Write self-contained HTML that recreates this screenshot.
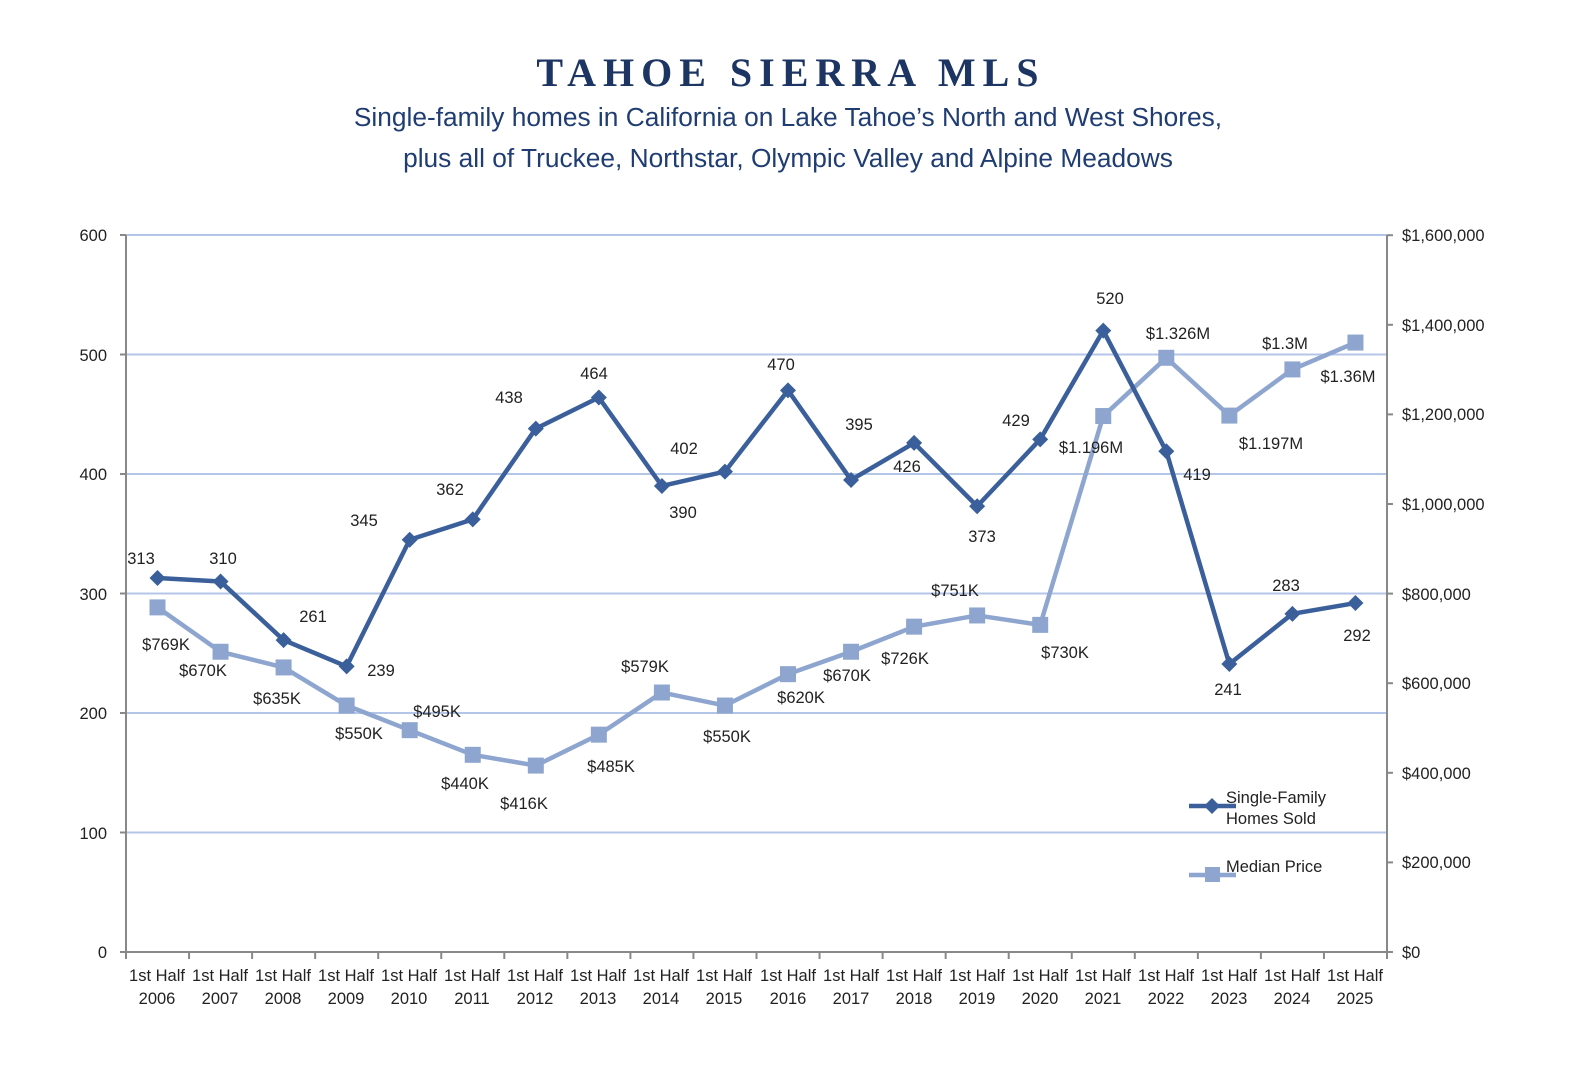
<!DOCTYPE html>
<html><head><meta charset="utf-8"><style>
html,body{margin:0;padding:0;background:#fff;width:1584px;height:1068px;overflow:hidden}
svg{display:block}
.t{font-family:"Liberation Sans",sans-serif;font-size:16.5px;fill:#222}
.d{font-family:"Liberation Sans",sans-serif;font-size:16.5px;fill:#222;text-anchor:middle}
</style></head><body>
<svg id="s" width="1584" height="1068" xmlns="http://www.w3.org/2000/svg">
<text x="791" y="86" text-anchor="middle" font-family="Liberation Serif,serif" font-weight="bold" font-size="40" letter-spacing="7" fill="#1c3563">TAHOE SIERRA MLS</text>
<text x="788" y="126" text-anchor="middle" font-family="Liberation Sans,sans-serif" font-size="26.3" fill="#1f3d73">Single-family homes in California on Lake Tahoe’s North and West Shores,</text>
<text x="788" y="167" text-anchor="middle" font-family="Liberation Sans,sans-serif" font-size="26.3" fill="#1f3d73">plus all of Truckee, Northstar, Olympic Valley and Alpine Meadows</text>
<g id="grid" stroke="#b4c6e7" stroke-width="2"></g>
<g id="axes" stroke="#888" stroke-width="2" fill="none"></g>
<g class="t" text-anchor="end">
<text x="107" y="241">600</text><text x="107" y="361">500</text><text x="107" y="480">400</text><text x="107" y="600">300</text><text x="107" y="719">200</text><text x="107" y="839">100</text><text x="107" y="958">0</text>
</g>
<g class="t">
<text x="1402" y="241">$1,600,000</text><text x="1402" y="331">$1,400,000</text><text x="1402" y="420">$1,200,000</text><text x="1402" y="510">$1,000,000</text><text x="1402" y="600">$800,000</text><text x="1402" y="689">$600,000</text><text x="1402" y="779">$400,000</text><text x="1402" y="868">$200,000</text><text x="1402" y="958">$0</text>
</g>
<g class="d">
<text x="157" y="981">1st Half</text><text x="157" y="1004">2006</text>
<text x="220" y="981">1st Half</text><text x="220" y="1004">2007</text>
<text x="283" y="981">1st Half</text><text x="283" y="1004">2008</text>
<text x="346" y="981">1st Half</text><text x="346" y="1004">2009</text>
<text x="409" y="981">1st Half</text><text x="409" y="1004">2010</text>
<text x="472" y="981">1st Half</text><text x="472" y="1004">2011</text>
<text x="535" y="981">1st Half</text><text x="535" y="1004">2012</text>
<text x="598" y="981">1st Half</text><text x="598" y="1004">2013</text>
<text x="661" y="981">1st Half</text><text x="661" y="1004">2014</text>
<text x="724" y="981">1st Half</text><text x="724" y="1004">2015</text>
<text x="788" y="981">1st Half</text><text x="788" y="1004">2016</text>
<text x="851" y="981">1st Half</text><text x="851" y="1004">2017</text>
<text x="914" y="981">1st Half</text><text x="914" y="1004">2018</text>
<text x="977" y="981">1st Half</text><text x="977" y="1004">2019</text>
<text x="1040" y="981">1st Half</text><text x="1040" y="1004">2020</text>
<text x="1103" y="981">1st Half</text><text x="1103" y="1004">2021</text>
<text x="1166" y="981">1st Half</text><text x="1166" y="1004">2022</text>
<text x="1229" y="981">1st Half</text><text x="1229" y="1004">2023</text>
<text x="1292" y="981">1st Half</text><text x="1292" y="1004">2024</text>
<text x="1355" y="981">1st Half</text><text x="1355" y="1004">2025</text>
</g>
<g id="series"></g>
<g class="d">
<text x="141" y="564">313</text><text x="223" y="564">310</text><text x="313" y="622">261</text><text x="381" y="676">239</text><text x="364" y="526">345</text><text x="450" y="495">362</text><text x="509" y="403">438</text><text x="594" y="379">464</text><text x="684" y="454">402</text><text x="683" y="518">390</text><text x="781" y="370">470</text><text x="859" y="430">395</text><text x="907" y="472">426</text><text x="982" y="542">373</text><text x="1016" y="426">429</text><text x="1110" y="304">520</text><text x="1197" y="480">419</text><text x="1228" y="695">241</text><text x="1286" y="591">283</text><text x="1357" y="641">292</text>
<text x="166" y="650">$769K</text><text x="203" y="676">$670K</text><text x="277" y="704">$635K</text><text x="359" y="739">$550K</text><text x="437" y="717">$495K</text><text x="465" y="789">$440K</text><text x="524" y="809">$416K</text><text x="611" y="772">$485K</text><text x="645" y="672">$579K</text><text x="727" y="742">$550K</text><text x="801" y="703">$620K</text><text x="847" y="681">$670K</text><text x="905" y="664">$726K</text><text x="955" y="596">$751K</text><text x="1065" y="658">$730K</text><text x="1091" y="453">$1.196M</text><text x="1178" y="339">$1.326M</text><text x="1271" y="449">$1.197M</text><text x="1285" y="349">$1.3M</text><text x="1348" y="382">$1.36M</text>
</g>
<g class="t">
<text x="1226" y="803">Single-Family</text><text x="1226" y="824">Homes Sold</text>
<text x="1226" y="872">Median Price</text>
</g>
</svg>
<script>
var NS="http://www.w3.org/2000/svg";
function el(p,n,a){var e=document.createElementNS(NS,n);for(var k in a)e.setAttribute(k,a[k]);p.appendChild(e);return e;}
var g=document.getElementById('grid');
for(var i=1;i<=6;i++){var y=952-i*119.5;el(g,'line',{x1:126,x2:1387,y1:y,y2:y});}
var a=document.getElementById('axes');
el(a,'line',{x1:126,x2:126,y1:235,y2:952});
el(a,'line',{x1:1387,x2:1387,y1:235,y2:952});
el(a,'line',{x1:120,x2:1393,y1:952,y2:952});
for(var i=0;i<=6;i++){var y=952-i*119.5;el(a,'line',{x1:120,x2:126,y1:y,y2:y});}
for(var i=0;i<=8;i++){var y=952-i*89.6;el(a,'line',{x1:1387,x2:1393,y1:y,y2:y});}
for(var i=0;i<=20;i++){var x=126+i*63.05;el(a,'line',{x1:x,x2:x,y1:952,y2:959});}
var sold=[313,310,261,239,345,362,438,464,390,402,470,395,426,373,429,520,419,241,283,292];
var price=[769,670,635,550,495,440,416,485,579,550,620,670,726,751,730,1196,1326,1197,1300,1360];
var s=document.getElementById('series');
function X(i){return 157.5+i*63.05;}
var pp=price.map(function(p,i){return X(i)+','+(952-p*0.448125);}).join(' ');
el(s,'polyline',{points:pp,fill:'none',stroke:'#8ea6cf','stroke-width':4.5,'stroke-linejoin':'round'});
price.forEach(function(p,i){el(s,'rect',{x:X(i)-8,y:952-p*0.448125-8,width:16,height:16,fill:'#8ea6cf'});});
var sp=sold.map(function(v,i){return X(i)+','+(952-v*1.195);}).join(' ');
el(s,'polyline',{points:sp,fill:'none',stroke:'#3a5f9a','stroke-width':4.5,'stroke-linejoin':'round'});
sold.forEach(function(v,i){var x=X(i),y=952-v*1.195;el(s,'polygon',{points:(x)+','+(y-8)+' '+(x+8)+','+y+' '+x+','+(y+8)+' '+(x-8)+','+y,fill:'#3a5f9a'});});
el(s,'line',{x1:1189,x2:1236,y1:806,y2:806,stroke:'#3a5f9a','stroke-width':4.5});
el(s,'polygon',{points:'1212,798 1220,806 1212,814 1204,806',fill:'#3a5f9a'});
el(s,'line',{x1:1189,x2:1236,y1:875,y2:875,stroke:'#8ea6cf','stroke-width':4.5});
el(s,'rect',{x:1205,y:867,width:15,height:15,fill:'#8ea6cf'});
</script>
</body></html>
